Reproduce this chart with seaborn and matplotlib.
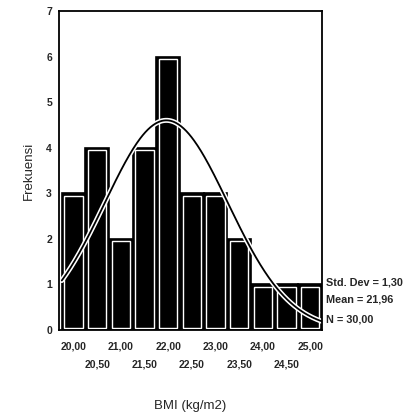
import numpy as np
import pandas as pd
import matplotlib
matplotlib.use("Agg")
import matplotlib.pyplot as plt
import matplotlib.patheffects as pe
import seaborn as sns

# Data
bin_centers = [20.00, 20.50, 21.00, 21.50, 22.00, 22.50, 23.00, 23.50, 24.00, 24.50, 25.00]
counts = [3, 4, 2, 4, 6, 3, 3, 2, 1, 1, 1]
tick_labels = ["20,00", "20,50", "21,00", "21,50", "22,00", "22,50",
               "23,00", "23,50", "24,00", "24,50", "25,00"]
std_dev = 1.30
mean = 21.96
n_total = 30
bin_width = 0.5

sns.set_style("white")
plt.rcParams['font.family'] = ['Liberation Sans', 'DejaVu Sans']

df = pd.DataFrame({"BMI": bin_centers, "count": counts})
edges = [c - bin_width / 2 for c in bin_centers] + [bin_centers[-1] + bin_width / 2]

fig = plt.figure(figsize=(4.15, 4.15), dpi=100)
ax = fig.add_axes([0.142, 0.205, 0.634, 0.768])

sns.histplot(data=df, x="BMI", weights="count", bins=edges, ax=ax,
             color="black", edgecolor="black", linewidth=1.2, alpha=1)
# inner white outline on each bar
inner_w = bin_width * 0.78
ax.bar(bin_centers, [c - 0.1 for c in counts], width=inner_w, bottom=0.05,
       fill=False, edgecolor="white", linewidth=1.0)

# normal curve
xs = np.linspace(edges[0], edges[-1], 300)
ys = n_total * bin_width * np.exp(-0.5 * ((xs - mean) / std_dev) ** 2) / (std_dev * np.sqrt(2 * np.pi))
sns.lineplot(x=xs, y=ys, ax=ax, color="black", linewidth=1.3,
             path_effects=[pe.Stroke(linewidth=3.6, foreground="white"), pe.Normal()])

ax.set_xlim(19.69, edges[-1])
ax.set_ylim(0, 7)
ax.set_yticks(range(0, 8))
ax.set_yticklabels([str(i) for i in range(0, 8)], fontsize=7.5, fontweight="bold")
ax.set_xticks(bin_centers)
ax.set_xticklabels([lab if i % 2 == 0 else "\n" + lab for i, lab in enumerate(tick_labels)],
                   fontsize=7.5, fontweight="bold", linespacing=2.1)
ax.tick_params(axis="both", direction="out", length=3, width=1.5, color="black", pad=2)
ax.tick_params(axis="x", pad=5)
for s in ax.spines.values():
    s.set_color("black")
    s.set_linewidth(1.3)

ax.set_xlabel("BMI (kg/m2)", fontsize=9.5, labelpad=22)
ax.set_ylabel("Frekuensi", fontsize=9.5, labelpad=8)

ax.text(1.015, 0.150, "Std. Dev = 1,30", transform=ax.transAxes, fontsize=7.8, fontweight="bold", va="center")
ax.text(1.015, 0.094, "Mean = 21,96", transform=ax.transAxes, fontsize=7.8, fontweight="bold", va="center")
ax.text(1.015, 0.034, "N = 30,00", transform=ax.transAxes, fontsize=7.8, fontweight="bold", va="center")

fig.savefig("out.png", dpi=100)
